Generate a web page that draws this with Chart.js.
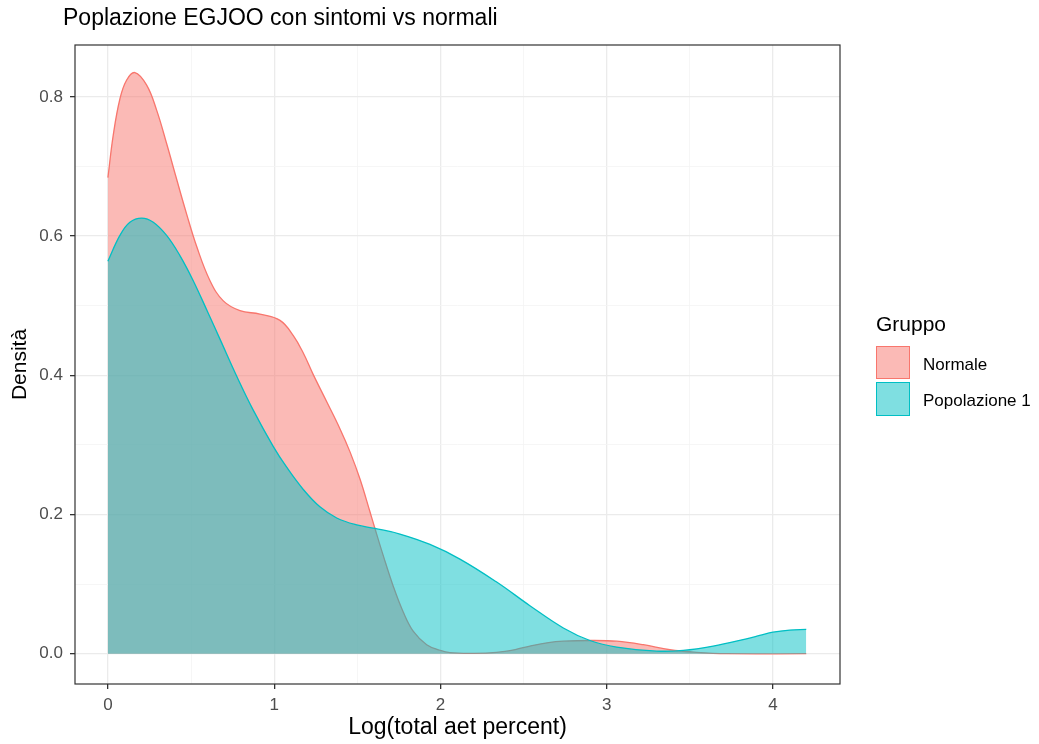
<!DOCTYPE html>
<html>
<head>
<meta charset="utf-8">
<script src="https://cdn.jsdelivr.net/npm/chart.js@4.4.0/dist/chart.umd.min.js"></script>
<style>
  html, body { margin: 0; padding: 0; background: #fff; }
  #wrap { position: relative; width: 1039px; height: 744px; font-family: "Liberation Sans", Arial, sans-serif; }
  #wrap canvas { position: absolute; left: 0; top: 0; }
  .txt { position: absolute; white-space: nowrap; color: #000; }
  .key { position: absolute; left: 876px; width: 34px; box-sizing: border-box; border: 1.3px solid; }
</style>
</head>
<body>
<div id="wrap">
  <canvas id="densita" width="1039" height="744"></canvas>
  <div class="txt" style="left:63px;top:6px;font-size:23px;line-height:23px;">Poplazione EGJOO con sintomi vs normali</div>
  <div class="txt" style="left:876px;top:313px;font-size:21px;line-height:21px;">Gruppo</div>
  <div class="key" style="top:346px;height:33px;background:rgba(248,118,109,0.5);border-color:#F8766D;"></div>
  <div class="key" style="top:382px;height:34px;background:rgba(0,191,196,0.5);border-color:#00BFC4;"></div>
  <div class="txt" style="left:923px;top:356px;font-size:17px;line-height:17px;">Normale</div>
  <div class="txt" style="left:923px;top:392px;font-size:17px;line-height:17px;">Popolazione 1</div>
</div>
<script>
// densita' stimate
var xNormale = [0, 0.032, 0.072, 0.112, 0.162, 0.233, 0.293, 0.353, 0.413, 0.473, 0.534, 0.614, 0.694, 0.794, 0.914, 1.035, 1.115, 1.175, 1.235, 1.316, 1.396, 1.456, 1.516, 1.576, 1.606, 1.656, 1.716, 1.776, 1.837, 1.917, 1.997, 2.057, 2.20, 2.338, 2.45, 2.538, 2.65, 2.739, 2.899, 3.06, 3.22, 3.38, 3.54, 3.72, 4.2];
var yNormale = [0.684, 0.745, 0.797, 0.824, 0.835, 0.817, 0.781, 0.733, 0.682, 0.632, 0.585, 0.536, 0.507, 0.493, 0.488, 0.479, 0.457, 0.432, 0.401, 0.362, 0.323, 0.290, 0.251, 0.204, 0.180, 0.141, 0.097, 0.060, 0.032, 0.013, 0.005, 0.0015, 0.0005, 0.002, 0.006, 0.011, 0.016, 0.018, 0.019, 0.018, 0.013, 0.0057, 0.002, 0.0, 0.0];

var xPop1 = [0, 0.072, 0.132, 0.203, 0.273, 0.353, 0.433, 0.513, 0.60, 0.674, 0.774, 0.874, 0.994, 1.075, 1.175, 1.275, 1.376, 1.496, 1.606, 1.756, 1.937, 2.117, 2.338, 2.538, 2.739, 2.899, 3.06, 3.30, 3.46, 3.64, 3.84, 3.92, 4.0, 4.1, 4.2];
var yPop1 = [0.564, 0.601, 0.620, 0.626, 0.620, 0.601, 0.572, 0.536, 0.491, 0.452, 0.399, 0.350, 0.298, 0.268, 0.236, 0.211, 0.195, 0.185, 0.180, 0.172, 0.157, 0.136, 0.103, 0.069, 0.037, 0.019, 0.0095, 0.0038, 0.0048, 0.011, 0.0215, 0.0262, 0.031, 0.034, 0.035];

var xTicks = [0, 0.5, 1, 1.5, 2, 2.5, 3, 3.5, 4];
var yTicks = [0, 0.1, 0.2, 0.3, 0.4, 0.5, 0.6, 0.7, 0.8];

function punti(xs, ys) {
  return xs.map(function (x, i) { return { x: x, y: ys[i] }; });
}
function isMajor(v, step) {
  return Math.abs(v / step - Math.round(v / step)) < 1e-6;
}

var bordo = {
  id: "bordo",
  afterDatasetsDraw: function (chart) {
    var a = chart.chartArea, ctx = chart.ctx;
    ctx.save();
    ctx.strokeStyle = "#333333";
    ctx.lineWidth = 1.2;
    ctx.strokeRect(a.left, a.top, a.right - a.left, a.bottom - a.top);
    ctx.restore();
  }
};

var fontTick = { family: "'Liberation Sans', Arial, sans-serif", size: 17 };

new Chart(document.getElementById("densita"), {
  type: "line",
  data: {
    datasets: [
      {
        label: "Normale",
        data: punti(xNormale, yNormale),
        borderColor: "#F8766D",
        backgroundColor: "rgba(248,118,109,0.5)",
        borderWidth: 1.3,
        fill: "origin",
        pointRadius: 0,
        tension: 0.4,
        order: 2
      },
      {
        label: "Popolazione 1",
        data: punti(xPop1, yPop1),
        borderColor: "#00BFC4",
        backgroundColor: "rgba(0,191,196,0.5)",
        borderWidth: 1.3,
        fill: "origin",
        pointRadius: 0,
        tension: 0.4,
        order: 1
      }
    ]
  },
  options: {
    responsive: false,
    animation: false,
    layout: { padding: { top: 45, right: 199, left: 0, bottom: 0 } },
    plugins: { legend: { display: false }, title: { display: false }, tooltip: { enabled: false } },
    scales: {
      x: {
        type: "linear",
        min: -0.198,
        max: 4.403,
        afterBuildTicks: function (s) { s.ticks = xTicks.map(function (v) { return { value: v }; }); },
        afterFit: function (s) { s.height = 60; },
        border: { display: false },
        grid: {
          color: function (c) { return isMajor(c.tick.value, 1) ? "#EBEBEB" : "#F4F4F4"; },
          lineWidth: function (c) { return isMajor(c.tick.value, 1) ? 1.3 : 0.8; },
          tickColor: function (c) { return isMajor(c.tick.value, 1) ? "#333333" : "rgba(0,0,0,0)"; },
          tickLength: 5
        },
        ticks: {
          color: "#4D4D4D",
          font: fontTick,
          padding: 6,
          maxRotation: 0,
          callback: function (v) { return isMajor(v, 1) ? String(v) : ""; }
        },
        title: { display: true, text: "Log(total aet percent)", color: "#000", font: { family: "'Liberation Sans', Arial, sans-serif", size: 23 }, padding: { top: 0, bottom: 3 } }
      },
      y: {
        type: "linear",
        min: -0.0435,
        max: 0.8746,
        afterBuildTicks: function (s) { s.ticks = yTicks.map(function (v) { return { value: v }; }); },
        afterFit: function (s) { s.width = 75; },
        border: { display: false },
        grid: {
          color: function (c) { return isMajor(c.tick.value, 0.2) ? "#EBEBEB" : "#F4F4F4"; },
          lineWidth: function (c) { return isMajor(c.tick.value, 0.2) ? 1.3 : 0.8; },
          tickColor: function (c) { return isMajor(c.tick.value, 0.2) ? "#333333" : "rgba(0,0,0,0)"; },
          tickLength: 5
        },
        ticks: {
          color: "#4D4D4D",
          font: fontTick,
          padding: 7,
          callback: function (v) { return isMajor(v, 0.2) ? v.toFixed(1) : ""; }
        },
        title: { display: true, text: "Densità", color: "#000", font: { family: "'Liberation Sans', Arial, sans-serif", size: 21 }, padding: { top: 8, bottom: 0 } }
      }
    }
  },
  plugins: [bordo]
});
</script>
</body>
</html>
